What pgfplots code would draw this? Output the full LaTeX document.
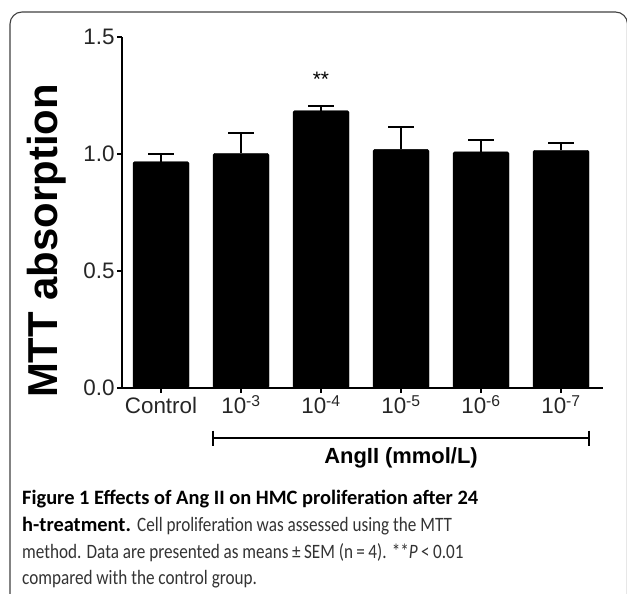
\documentclass[border=0pt]{standalone}
\usepackage{fontspec}
\setmainfont{Liberation Sans}
\newfontfamily\capfont{Carlito}
\newfontfamily\capreg[FakeStretch=0.84]{Carlito}
\usepackage{pgfplots}
\pgfplotsset{compat=1.18}

\pgfplotstableread{
x  y     err
0  0.967 0.033
1  1.003 0.088
2  1.185 0.021
3  1.020 0.097
4  1.009 0.049
5  1.016 0.031
}\mttdata

\begin{document}
\begin{tikzpicture}
\path[use as bounding box] (0,0) rectangle (627bp,594bp);
% frame
\draw[line width=1.1bp, black!75, rounded corners=12bp] (10bp,-30bp) rectangle (627.5bp,582bp);

\begin{axis}[
  at={(122bp,206bp)}, anchor=south west,
  scale only axis, width=481bp, height=351bp,
  xmin=-0.4875, xmax=5.525, ymin=0, ymax=1.5,
  axis lines=left, axis line style={-, line width=2bp},
  clip=false,
  tick align=outside, major tick length=5bp,
  every tick/.style={line width=2bp, black},
  xtick={0,...,5},
  xticklabels={Control,10\textsuperscript{-3},10\textsuperscript{-4},10\textsuperscript{-5},10\textsuperscript{-6},10\textsuperscript{-7}},
  ytick={0,0.5,1,1.5},
  yticklabels={0.0,0.5,1.0,1.5},
  tick label style={font=\fontsize{22.5}{26}\selectfont, text=black!85},
  xticklabel style={anchor=base, yshift=-21bp},
  yticklabel style={xshift=1bp},
  ybar, bar width=0.7,
]
\addplot[fill=black, draw=black, rounded corners=1.5bp,
  error bars/.cd, y dir=plus, y explicit,
  error bar style={line width=2bp, black},
  error mark options={rotate=90, mark size=13bp, line width=2bp, black}]
  table[x=x, y=y, y error=err] {\mttdata};
\node[font=\fontsize{21}{24}\selectfont] at (axis cs:2,1.32) {**};
\draw[line width=2bp] (axis cs:0.65,-0.214) -- (axis cs:5.35,-0.214);
\draw[line width=2bp] (axis cs:0.65,-0.182) -- (axis cs:0.65,-0.246);
\draw[line width=2bp] (axis cs:5.35,-0.182) -- (axis cs:5.35,-0.246);
\node[font=\fontsize{22}{26}\selectfont\bfseries] at (axis cs:3.0,-0.300) {AngII (mmol/L)};
\end{axis}

\node[rotate=90, font=\fontsize{42}{46}\selectfont\bfseries] at (47bp,353bp) {MTT absorption};

\begin{scope}[every node/.style={anchor=base west, inner sep=0pt, font=\fontsize{20.5}{24}\selectfont}]
\node at (22bp,89bp) {\capfont\bfseries Figure 1 Effects of Ang II on HMC proliferation after 24};
\node at (22bp,62.5bp) {\capfont{\bfseries h-treatment.} \capreg\color{black!80}Cell proliferation was assessed using the MTT};
\node[text=black!80] at (22bp,36bp) {\capreg method. Data are presented as means\,±\,SEM (n\,=\,4). **\textit{P}\,<\,0.01};
\node[text=black!80] at (22bp,10bp) {\capreg compared with the control group.};
\end{scope}
\end{tikzpicture}
\end{document}
